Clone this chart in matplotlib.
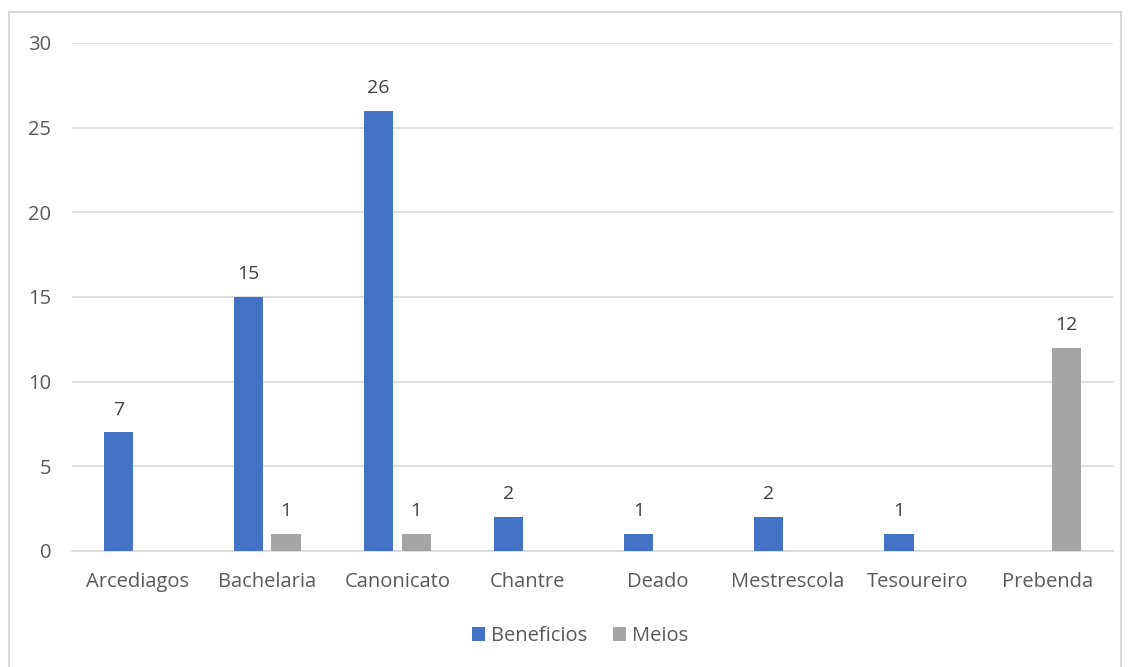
import numpy as np
import matplotlib.pyplot as plt
from matplotlib.patches import Rectangle

categorias = ["Arcediagos", "Bachelaria", "Canonicato", "Chantre", "Deado",
              "Mestrescola", "Tesoureiro", "Prebenda"]
beneficios = [7, 15, 26, 2, 1, 2, 1, 0]
meios = [0, 1, 1, 0, 0, 0, 0, 12]

AZUL = "#4472C4"
CINZA = "#A5A5A5"
TEXTO = "#595959"
GRELHA = "#D9D9D9"

plt.rcParams["font.family"] = ["Open Sans", "DejaVu Sans"]

fig = plt.figure(figsize=(11.31, 6.67), dpi=100)
ax = fig.add_axes([72 / 1131, 1 - 551 / 667, (1113 - 72) / 1131, (551 - 43) / 667])

# moldura do gráfico (o lado de baixo fica fora da imagem)
fig.patches.append(Rectangle((9 / 1131, -0.01), (1121 - 9) / 1131, 1.01 - 12 / 667,
                             transform=fig.transFigure, fill=False,
                             edgecolor=GRELHA, linewidth=1.5))

x = np.arange(len(categorias))
larg = 0.225
desl = 0.145
b1 = ax.bar(x - desl, beneficios, larg, color=AZUL, label="Beneficios", zorder=3)
b2 = ax.bar(x + desl, meios, larg, color=CINZA, label="Meios", zorder=3)

for barras, valores in ((b1, beneficios), (b2, meios)):
    for r, v in zip(barras, valores):
        if v:
            ax.annotate(str(v), (r.get_x() + r.get_width() / 2, v),
                        xytext=(0, 10), textcoords="offset points",
                        ha="center", va="bottom", fontsize=14, color="#404040")

ax.set_xlim(-0.5, len(categorias) - 0.5)
ax.set_ylim(0, 30)
ax.set_yticks(range(0, 31, 5))
ax.set_xticks(x)
ax.set_xticklabels(categorias)
ax.yaxis.grid(True, color=GRELHA, linewidth=1.2, zorder=0)
ax.tick_params(axis="both", length=0, labelsize=14.5, colors=TEXTO)
ax.tick_params(axis="x", pad=15)
ax.tick_params(axis="y", pad=15)
for lado in ("top", "right", "left"):
    ax.spines[lado].set_visible(False)
ax.spines["bottom"].set_color(GRELHA)
ax.spines["bottom"].set_linewidth(1.2)

leg = fig.legend(loc="center", bbox_to_anchor=(580 / 1131, 1 - 636 / 667), ncol=2,
                 frameon=False, fontsize=14.5, handlelength=0.65, handleheight=0.65,
                 handletextpad=0.3, columnspacing=1.3)
for t in leg.get_texts():
    t.set_color(TEXTO)

fig.savefig("out.png", dpi=100)
